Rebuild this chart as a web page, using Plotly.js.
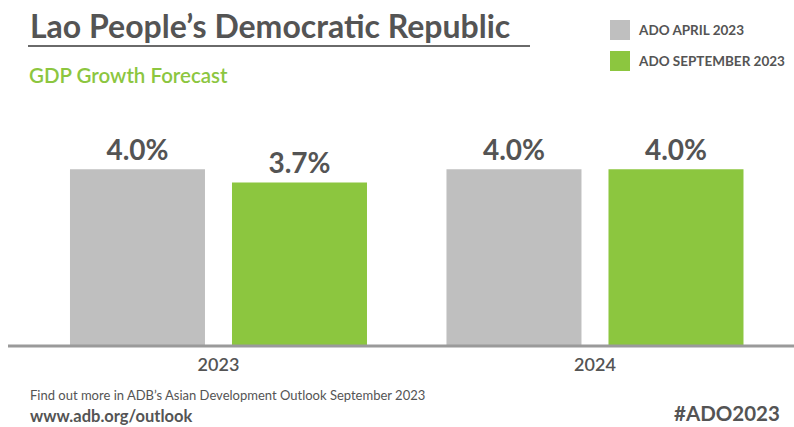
<!DOCTYPE html>
<html><head><meta charset="utf-8">
<script src="https://cdn.plot.ly/plotly-3.0.1.min.js"></script>
<style>html,body{margin:0;padding:0;background:#fff}#chart{width:794px;height:427px}</style>
</head><body><div id="chart"></div>
<script>
const years = ['2023', '2024'];
const seriesNames = ['ADO APRIL 2023', 'ADO SEPTEMBER 2023'];
const aprilValues = [4.0, 4.0];
const septemberValues = [3.7, 4.0];
const colors = ['#bfbfbf', '#8cc63f'];
const textColor = '#545454';
const font = 'Lato, "Open Sans", sans-serif';

const mk = (vals, i) => ({
  type: 'bar', x: years, y: vals, name: seriesNames[i],
  marker: {color: colors[i]},
  text: vals.map(v => v.toFixed(1) + '%'),
  textposition: 'outside', cliponaxis: false,
  textfont: {family: font, size: 28, color: textColor, weight: 'bold'},
  hoverinfo: 'skip'
});

const data = [mk(aprilValues, 0), mk(septemberValues, 1)];

const layout = {
  width: 794, height: 427,
  margin: {l: 0, r: 0, t: 125, b: 81},
  paper_bgcolor: '#fff', plot_bgcolor: '#fff',
  showlegend: false,
  barmode: 'group', bargap: 0.1394, bargroupgap: 0.1667,
  xaxis: {type: 'category', range: [-0.5803, 1.5286], showgrid: false, zeroline: false,
    showline: false, ticks: '', tickfont: {family: font, size: 18, color: textColor, weight: 600}, ticklabelstandoff: 6},
  yaxis: {range: [0, 5], visible: false, fixedrange: true},
  shapes: [
    {type: 'line', xref: 'paper', yref: 'paper', x0: 8/794, x1: 1, y0: 0, y1: 0, line: {color: '#9a9a9a', width: 3}},
    {type: 'line', xref: 'paper', yref: 'paper', x0: 28/794, x1: 530/794, y0: (427-46-81)/221, y1: (427-46-81)/221, line: {color: '#6a6a6a', width: 2}},
    {type: 'rect', xref: 'paper', yref: 'paper', x0: 610/794, x1: 630/794, y0: (427-40-81)/221, y1: (427-20-81)/221, fillcolor: colors[0], line: {width: 0}},
    {type: 'rect', xref: 'paper', yref: 'paper', x0: 610/794, x1: 630/794, y0: (427-71-81)/221, y1: (427-51-81)/221, fillcolor: colors[1], line: {width: 0}}
  ],
  annotations: [
    {text: 'Lao People’s Democratic Republic', xref: 'paper', yref: 'paper', x: 28/794, y: (427-25-81)/221, xanchor: 'left', yanchor: 'middle', showarrow: false,
      font: {family: font, size: 32, color: textColor, weight: 'bold'}},
    {text: 'GDP Growth Forecast', xref: 'paper', yref: 'paper', x: 27/794, y: (427-75-81)/221, xanchor: 'left', yanchor: 'middle', showarrow: false,
      font: {family: font, size: 20.5, color: '#8cc63f', weight: 600}},
    {text: seriesNames[0], xref: 'paper', yref: 'paper', x: 636/794, y: (427-30-81)/221, xanchor: 'left', yanchor: 'middle', showarrow: false,
      font: {family: font, size: 13.5, color: textColor, weight: 'bold'}},
    {text: seriesNames[1], xref: 'paper', yref: 'paper', x: 636/794, y: (427-61-81)/221, xanchor: 'left', yanchor: 'middle', showarrow: false,
      font: {family: font, size: 13.5, color: textColor, weight: 'bold'}},
    {text: 'Find out more in ADB’s Asian Development Outlook September 2023', xref: 'paper', yref: 'paper', x: 28/794, y: (427-395-81)/221, xanchor: 'left', yanchor: 'middle', showarrow: false,
      font: {family: font, size: 13, color: textColor}},
    {text: 'www.adb.org/outlook', xref: 'paper', yref: 'paper', x: 28/794, y: (427-416-81)/221, xanchor: 'left', yanchor: 'middle', showarrow: false,
      font: {family: font, size: 16.5, color: textColor, weight: 'bold'}},
    {text: '#ADO2023', xref: 'paper', yref: 'paper', x: 782/794, y: (427-413-81)/221, xanchor: 'right', yanchor: 'middle', showarrow: false,
      font: {family: font, size: 20.5, color: textColor, weight: 'bold'}}
  ]
};

Plotly.newPlot('chart', data, layout, {displayModeBar: false, staticPlot: true});
</script></body></html>
